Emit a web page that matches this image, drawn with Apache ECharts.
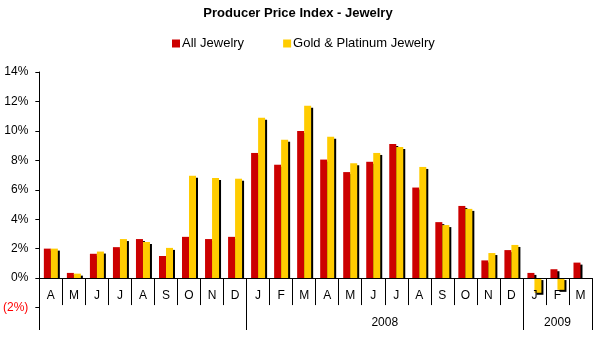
<!DOCTYPE html>
<html>
<head>
<meta charset="utf-8">
<script src="https://cdn.jsdelivr.net/npm/echarts@6/dist/echarts.min.js"></script>
<style>html,body{margin:0;padding:0;background:#fff}#c{width:596px;height:351px}</style>
</head>
<body>
<div id="c"></div>
<script>
var months = ['A','M','J','J','A','S','O','N','D','J','F','M','A','M','J','J','A','S','O','N','D','J','F','M'];
var allJewelry = [2.0,0.35,1.65,2.1,2.65,1.5,2.8,2.65,2.8,8.5,7.7,10.0,8.05,7.2,7.9,9.1,6.15,3.8,4.9,1.2,1.9,0.35,0.6,1.05];
var goldPlatinum = [2.0,0.3,1.8,2.65,2.45,2.05,6.95,6.8,6.75,10.9,9.4,11.7,9.6,7.8,8.5,8.9,7.55,3.6,4.7,1.7,2.25,-1.0,-0.8,0];
var yearLabels = ['2008','2009'];
var yearSpans = [[9,21],[21,24]];
var yTicks = {min:-2, max:14, interval:2};

var yearAxisData = [];
for (var i = 0; i <= months.length*2; i++) yearAxisData.push('');
var tickSet = {0:true};
yearSpans.forEach(function(s, k){
  yearAxisData[s[0]+s[1]] = yearLabels[k];
  tickSet[s[0]*2] = true; tickSet[s[1]*2] = true;
});

var BW = 7, SH = 2;
var font = 'Liberation Sans, Arial, sans-serif';
var GRID = {left:36, right:4, top:72, bottom:43.5};

function shadowRenderer(dx){
  return function(params, api){
    var idx = api.value(0), v = api.value(1);
    var base = api.coord([idx, 0]);
    var top = api.coord([idx, v]);
    var x0 = base[0] + dx + SH;
    var y0, y1;
    if (v >= 0) { y0 = top[1] + SH; y1 = base[1]; }
    else { y0 = base[1] + SH; y1 = top[1] + SH; }
    return {type:'rect', shape:{x:x0, y:y0, width:BW, height:Math.max(0, y1 - y0)}, style:{fill:'#000'}};
  };
}
function pairs(arr){ return arr.map(function(v,i){return [i,v];}); }

var chart = echarts.init(document.getElementById('c'));
var option = {
  animation:false,
  title:{text:'Producer Price Index - Jewelry', left:'center', top:2,
    textStyle:{fontFamily:font, fontSize:13, fontWeight:'bold', color:'#000'}},
  legend:{top:32, left:167, itemWidth:8, itemHeight:8, itemGap:39, icon:'rect',
    data:['All Jewelry','Gold & Platinum Jewelry'],
    textStyle:{fontFamily:font, fontSize:13, color:'#000', padding:[0,0,0,-3]}},
  grid:GRID,
  xAxis:[{
    type:'category', data:months, position:'bottom', offset:0,
    axisLine:{onZero:false, lineStyle:{color:'#000', width:1}},
    axisTick:{show:true, length:27, alignWithLabel:false, lineStyle:{color:'#000'}},
    axisLabel:{interval:0, margin:12, fontFamily:font, fontSize:12, color:'#000'},
    splitLine:{show:false}, z:5
  },{
    type:'category', data:yearAxisData, boundaryGap:false, position:'bottom', offset:22.5,
    axisLine:{show:false, onZero:false},
    axisTick:{show:true, inside:true, length:25, interval:function(idx){return !!tickSet[idx];}, lineStyle:{color:'#000'}},
    axisLabel:{show:true, inside:true, interval:0, margin:1, fontFamily:font, fontSize:12, color:'#000'},
    splitLine:{show:false}
  }],
  yAxis:{type:'value', min:yTicks.min, max:yTicks.max, interval:yTicks.interval,
    axisLine:{show:true, lineStyle:{color:'#000'}},
    axisTick:{show:true, length:4, lineStyle:{color:'#000'}},
    splitLine:{show:false},
    axisLabel:{margin:11, fontFamily:font, fontSize:12,
      color:function(v){return v<0?'#FF0000':'#000';},
      formatter:function(v){return v<0?'('+Math.abs(v)+'%)':v+'%';}}
  },
  series:[
    {name:'shadowA', type:'custom', data:pairs(allJewelry), encode:{x:0,y:1}, z:1, silent:true,
      renderItem:shadowRenderer(-BW)},
    {name:'All Jewelry', type:'bar', data:allJewelry, barWidth:BW, barGap:'0%', z:2,
      itemStyle:{color:'#CC0000'}},
    {name:'shadowG', type:'custom', data:pairs(goldPlatinum), encode:{x:0,y:1}, z:3, silent:true,
      renderItem:shadowRenderer(0)},
    {name:'Gold & Platinum Jewelry', type:'bar', data:goldPlatinum, barWidth:BW, barGap:'0%', z:4,
      itemStyle:{color:'#FFCC00'}}
  ]
};
chart.setOption(option);
// move the month axis up to the zero line using the library's own scale
var zeroY = chart.convertToPixel({yAxisIndex:0}, 0);
var bottomY = chart.convertToPixel({yAxisIndex:0}, yTicks.min);
chart.setOption({xAxis:[{offset:-(bottomY - zeroY)}, {}]});
</script>
</body>
</html>
